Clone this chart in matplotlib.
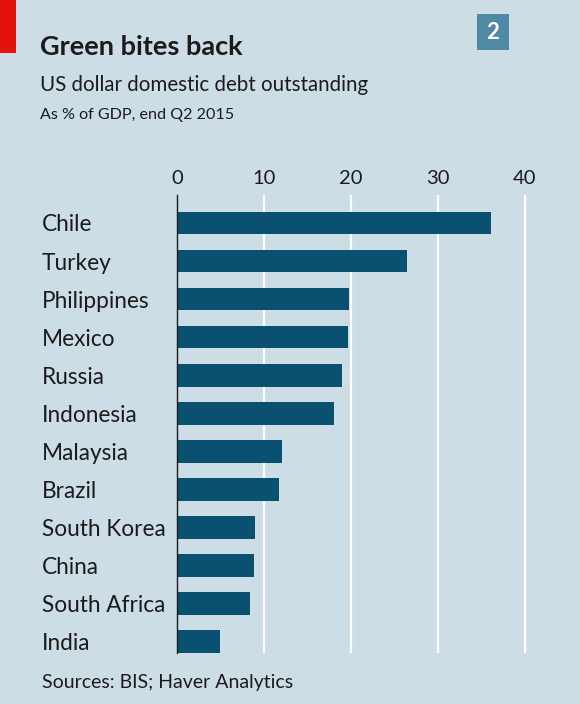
import matplotlib
matplotlib.use("Agg")
import matplotlib.pyplot as plt
from matplotlib.patches import Rectangle

# data (% of GDP, end Q2 2015)
countries = ["Chile", "Turkey", "Philippines", "Mexico", "Russia", "Indonesia",
             "Malaysia", "Brazil", "South Korea", "China", "South Africa", "India"]
values = [36.1, 26.5, 19.8, 19.7, 19.0, 18.0, 12.1, 11.7, 9.0, 8.8, 8.4, 4.9]
ticks = [0, 10, 20, 30, 40]

bg = "#cddde6"
bar_col = "#0a5070"
txt = "#1b1b1b"

plt.rcParams["font.family"] = ["Lato", "DejaVu Sans"]

fig = plt.figure(figsize=(5.8, 7.04), dpi=100)
fig.patch.set_facecolor(bg)

ax = fig.add_axes([0.3057, 0.0729, 0.6136, 0.6501])
ax.set_facecolor(bg)
pos = list(range(len(countries)))
ax.barh(pos, values, height=0.6, color=bar_col, zorder=3)

ax.set_xlim(0, 41)
ax.set_ylim(11.3, -0.736)
ax.set_xticks(ticks)
ax.set_xticklabels([str(t) for t in ticks])
ax.xaxis.tick_top()
ax.tick_params(axis="x", length=0, pad=6, labelsize=14.5, labelcolor=txt)
ax.set_yticks(pos)
ax.set_yticklabels(countries)
ax.tick_params(axis="y", length=0, pad=97.4, labelsize=16.3, labelcolor=txt)
for lab in ax.get_yticklabels():
    lab.set_horizontalalignment("left")

for s in ["top", "right", "bottom"]:
    ax.spines[s].set_visible(False)
ax.spines["left"].set_color("#1b1b1b")
ax.spines["left"].set_linewidth(1.0)
ax.spines["left"].set_zorder(4)

for t in ticks[1:]:
    ax.axvline(t, color="white", lw=1.6, zorder=1)

# header
fig.add_artist(Rectangle((0, 0.9247), 0.0276, 0.0753, transform=fig.transFigure,
                         color="#e3120b", lw=0))
fig.add_artist(Rectangle((0.8224, 0.9283), 0.0552, 0.0518, transform=fig.transFigure,
                         color="#4f89a6", lw=0))
fig.text(0.8500, 0.9542, "2", color="white", fontsize=16, fontweight="bold",
         ha="center", va="center")

fig.text(0.069, 0.9219, "Green bites back", fontsize=19.5, fontweight="bold",
         color=txt, va="baseline")
fig.text(0.069, 0.8712, "US dollar domestic debt outstanding", fontsize=14.8,
         color=txt, va="baseline")
fig.text(0.069, 0.831, "As % of GDP, end Q2 2015", fontsize=11.6,
         color=txt, va="baseline")
fig.text(0.0724, 0.0227, "Sources: BIS; Haver Analytics", fontsize=14,
         color=txt, va="baseline")

fig.savefig("out.png", dpi=100, facecolor=bg)
